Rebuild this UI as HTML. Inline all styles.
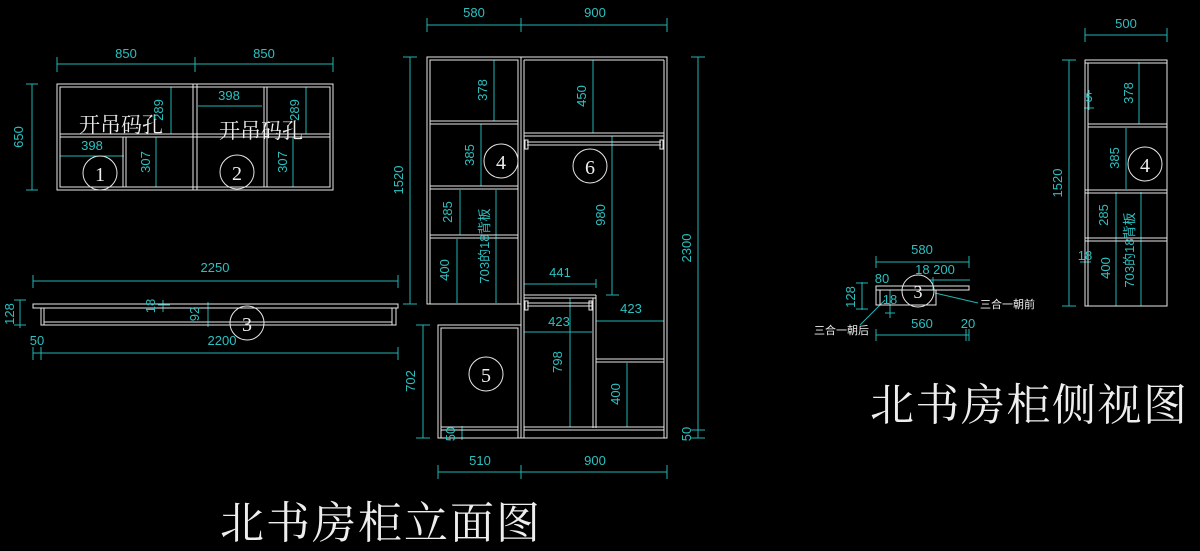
<!DOCTYPE html>
<html><head><meta charset="utf-8"><style>
html,body{margin:0;padding:0;background:#000;}
svg{display:block;}
.w{stroke:#e8e8e8;stroke-width:1;fill:none;}
.c{stroke:#20b5b5;stroke-width:1;fill:none;}
.t{fill:#2cc0c0;font-family:"Liberation Sans","Noto Sans CJK SC",sans-serif;font-size:13px;}
.wt{fill:#eee;font-family:"Liberation Serif","Noto Serif CJK SC",serif;}
.cir{stroke:#e8e8e8;stroke-width:1;fill:none;}
</style></head><body>
<svg width="1200" height="551" viewBox="0 0 1200 551" xmlns="http://www.w3.org/2000/svg">
<rect width="1200" height="551" fill="#000"/>

<!-- ============ TOP LEFT CABINETS ============ -->
<g class="c">
<line x1="57" y1="64" x2="333" y2="64"/><line x1="57" y1="57" x2="57" y2="72"/><line x1="195" y1="57" x2="195" y2="72"/><line x1="333" y1="57" x2="333" y2="72"/>
<line x1="32" y1="84" x2="32" y2="190"/><line x1="26" y1="84" x2="38" y2="84"/><line x1="26" y1="190" x2="38" y2="190"/>
<line x1="171" y1="87" x2="171" y2="134"/><line x1="167" y1="87" x2="175" y2="87"/>
<line x1="60" y1="156" x2="124" y2="156"/>
<line x1="156" y1="137" x2="156" y2="187"/><line x1="152" y1="187" x2="160" y2="187"/>
<line x1="198" y1="106" x2="262" y2="106"/>
<line x1="306" y1="87" x2="306" y2="134"/><line x1="302" y1="87" x2="310" y2="87"/>
<line x1="293" y1="137" x2="293" y2="187"/><line x1="289" y1="187" x2="297" y2="187"/>
</g>
<g class="w">
<rect x="57" y="84" width="276" height="106"/><rect x="60" y="87" width="270" height="100"/>
<line x1="193" y1="84" x2="193" y2="190"/><line x1="197" y1="84" x2="197" y2="190"/>
<line x1="60" y1="134" x2="330" y2="134"/><line x1="60" y1="137" x2="330" y2="137"/>
<line x1="123" y1="137" x2="123" y2="187"/><line x1="126" y1="137" x2="126" y2="187"/>
<line x1="264" y1="87" x2="264" y2="187"/><line x1="267" y1="87" x2="267" y2="187"/>
</g>
<circle class="cir" cx="100" cy="173" r="17"/><circle class="cir" cx="237" cy="172" r="17"/>
<text class="wt" x="100" y="181" font-size="20" text-anchor="middle">1</text>
<text class="wt" x="237" y="180" font-size="20" text-anchor="middle">2</text>
<text class="wt" x="79" y="132" font-size="21">开吊码孔</text>
<text class="wt" x="219" y="138" font-size="21">开吊码孔</text>
<text class="t" x="126" y="58" text-anchor="middle">850</text>
<text class="t" x="264" y="58" text-anchor="middle">850</text>
<text class="t" x="92" y="150" text-anchor="middle">398</text>
<text class="t" x="229" y="100" text-anchor="middle">398</text>
<text class="t" transform="translate(23,137) rotate(-90)" text-anchor="middle">650</text>
<text class="t" transform="translate(163,110) rotate(-90)" text-anchor="middle">289</text>
<text class="t" transform="translate(299,110) rotate(-90)" text-anchor="middle">289</text>
<text class="t" transform="translate(150,162) rotate(-90)" text-anchor="middle">307</text>
<text class="t" transform="translate(287,162) rotate(-90)" text-anchor="middle">307</text>

<!-- ============ LONG BOARD ============ -->
<g class="c">
<line x1="33" y1="281" x2="398" y2="281"/><line x1="33" y1="275" x2="33" y2="288"/><line x1="398" y1="275" x2="398" y2="288"/>
<line x1="20" y1="300" x2="20" y2="328"/><line x1="14" y1="300" x2="26" y2="300"/><line x1="14" y1="325" x2="26" y2="325"/>
<line x1="33" y1="353" x2="398" y2="353"/><line x1="33" y1="347" x2="33" y2="360"/><line x1="41" y1="347" x2="41" y2="360"/><line x1="398" y1="347" x2="398" y2="360"/>
<line x1="163" y1="300" x2="163" y2="312"/><line x1="158" y1="305" x2="170" y2="305"/>
<line x1="208" y1="302" x2="208" y2="327"/>
</g>
<g class="w">
<rect x="33" y="304" width="365" height="4"/>
<rect x="41" y="308" width="355" height="17"/>
<line x1="44" y1="308" x2="44" y2="325"/><line x1="392" y1="308" x2="392" y2="325"/>
<line x1="44" y1="322" x2="392" y2="322"/>
</g>
<circle class="cir" cx="247" cy="323" r="17"/>
<text class="wt" x="247" y="331" font-size="20" text-anchor="middle">3</text>
<text class="t" x="215" y="272" text-anchor="middle">2250</text>
<text class="t" x="222" y="345" text-anchor="middle">2200</text>
<text class="t" x="37" y="345" text-anchor="middle">50</text>
<text class="t" transform="translate(14,314) rotate(-90)" text-anchor="middle">128</text>
<text class="t" transform="translate(155,306) rotate(-90)" text-anchor="middle">18</text>
<text class="t" transform="translate(199,314) rotate(-90)" text-anchor="middle">92</text>

<!-- ============ FRONT ELEVATION ============ -->
<g class="c">
<line x1="427" y1="25" x2="667" y2="25"/><line x1="427" y1="18" x2="427" y2="32"/><line x1="521" y1="18" x2="521" y2="32"/><line x1="667" y1="18" x2="667" y2="32"/>
<line x1="410" y1="57" x2="410" y2="304"/><line x1="403" y1="57" x2="417" y2="57"/><line x1="403" y1="304" x2="417" y2="304"/>
<line x1="698" y1="57" x2="698" y2="438"/><line x1="691" y1="57" x2="705" y2="57"/><line x1="691" y1="430" x2="705" y2="430"/><line x1="691" y1="438" x2="705" y2="438"/>
<line x1="423" y1="325" x2="423" y2="438"/><line x1="416" y1="325" x2="430" y2="325"/><line x1="416" y1="438" x2="430" y2="438"/>
<line x1="438" y1="472" x2="667" y2="472"/><line x1="438" y1="465" x2="438" y2="479"/><line x1="521" y1="465" x2="521" y2="479"/><line x1="667" y1="465" x2="667" y2="479"/>
<line x1="494" y1="60" x2="494" y2="121"/><line x1="490" y1="121" x2="498" y2="121"/>
<line x1="481" y1="124" x2="481" y2="186"/><line x1="477" y1="186" x2="485" y2="186"/>
<line x1="460" y1="190" x2="460" y2="235"/>
<line x1="457" y1="239" x2="457" y2="303"/>
<line x1="496" y1="190" x2="496" y2="303"/>
<line x1="593" y1="60" x2="593" y2="133"/><line x1="589" y1="133" x2="597" y2="133"/>
<line x1="612" y1="136" x2="612" y2="295"/><line x1="606" y1="295" x2="619" y2="295"/>
<line x1="524" y1="284" x2="596" y2="284"/><line x1="524" y1="279" x2="524" y2="288"/><line x1="596" y1="279" x2="596" y2="288"/>
<line x1="524" y1="332" x2="592" y2="332"/>
<line x1="596" y1="321" x2="664" y2="321"/><line x1="664" y1="315" x2="664" y2="325"/>
<line x1="570" y1="298" x2="570" y2="427"/>
<line x1="627" y1="363" x2="627" y2="427"/>
<line x1="462" y1="426" x2="462" y2="440"/><line x1="456" y1="430" x2="468" y2="430"/>
</g>
<g class="w">
<rect x="427" y="57" width="94" height="247"/><rect x="430" y="60" width="88" height="244"/>
<line x1="430" y1="121" x2="518" y2="121"/><line x1="430" y1="124" x2="518" y2="124"/>
<line x1="430" y1="186" x2="518" y2="186"/><line x1="430" y1="189" x2="518" y2="189"/>
<line x1="430" y1="235" x2="518" y2="235"/><line x1="430" y1="238" x2="518" y2="238"/>
<rect x="521" y="57" width="146" height="381"/>
<line x1="524" y1="60" x2="524" y2="438"/><line x1="664" y1="60" x2="664" y2="438"/>
<line x1="524" y1="60" x2="664" y2="60"/>
<line x1="524" y1="133" x2="664" y2="133"/><line x1="524" y1="136" x2="664" y2="136"/>
<line x1="527" y1="142" x2="661" y2="142"/><line x1="527" y1="145" x2="661" y2="145"/>
<rect x="525" y="140" width="3" height="9"/><rect x="660" y="140" width="3" height="9"/>
<line x1="524" y1="295" x2="596" y2="295"/><line x1="524" y1="298" x2="596" y2="298"/>
<line x1="593" y1="298" x2="593" y2="428"/><line x1="596" y1="295" x2="596" y2="428"/>
<line x1="527" y1="303" x2="592" y2="303"/><line x1="527" y1="306" x2="592" y2="306"/>
<rect x="525" y="301" width="3" height="9"/><rect x="589" y="301" width="3" height="9"/>
<line x1="596" y1="359" x2="664" y2="359"/><line x1="596" y1="362" x2="664" y2="362"/>
<line x1="524" y1="427" x2="664" y2="427"/><line x1="524" y1="430" x2="664" y2="430"/>
<rect x="438" y="325" width="83" height="113"/><rect x="441" y="328" width="77" height="110"/>
<line x1="441" y1="427" x2="518" y2="427"/><line x1="441" y1="430" x2="518" y2="430"/>
</g>
<circle class="cir" cx="501" cy="161" r="17"/><circle class="cir" cx="590" cy="166" r="17"/><circle class="cir" cx="486" cy="374" r="17"/>
<text class="wt" x="501" y="169" font-size="20" text-anchor="middle">4</text>
<text class="wt" x="590" y="174" font-size="20" text-anchor="middle">6</text>
<text class="wt" x="486" y="382" font-size="20" text-anchor="middle">5</text>
<text class="t" x="474" y="17" text-anchor="middle">580</text>
<text class="t" x="595" y="17" text-anchor="middle">900</text>
<text class="t" x="480" y="465" text-anchor="middle">510</text>
<text class="t" x="595" y="465" text-anchor="middle">900</text>
<text class="t" x="560" y="277" text-anchor="middle">441</text>
<text class="t" x="559" y="326" text-anchor="middle">423</text>
<text class="t" x="631" y="313" text-anchor="middle">423</text>
<text class="t" transform="translate(403,180) rotate(-90)" text-anchor="middle">1520</text>
<text class="t" transform="translate(691,248) rotate(-90)" text-anchor="middle">2300</text>
<text class="t" transform="translate(415,381) rotate(-90)" text-anchor="middle">702</text>
<text class="t" transform="translate(691,434) rotate(-90)" text-anchor="middle">50</text>
<text class="t" transform="translate(455,434) rotate(-90)" text-anchor="middle">50</text>
<text class="t" transform="translate(487,90) rotate(-90)" text-anchor="middle">378</text>
<text class="t" transform="translate(474,155) rotate(-90)" text-anchor="middle">385</text>
<text class="t" transform="translate(452,212) rotate(-90)" text-anchor="middle">285</text>
<text class="t" transform="translate(449,270) rotate(-90)" text-anchor="middle">400</text>
<text class="t" transform="translate(489,246) rotate(-90)" text-anchor="middle">703的18背板</text>
<text class="t" transform="translate(586,96) rotate(-90)" text-anchor="middle">450</text>
<text class="t" transform="translate(605,215) rotate(-90)" text-anchor="middle">980</text>
<text class="t" transform="translate(562,362) rotate(-90)" text-anchor="middle">798</text>
<text class="t" transform="translate(620,394) rotate(-90)" text-anchor="middle">400</text>
<text class="wt" x="220" y="538" font-size="44" letter-spacing="2">北书房柜立面图</text>

<!-- ============ SIDE VIEW ============ -->
<g class="c">
<line x1="1085" y1="35" x2="1167" y2="35"/><line x1="1085" y1="28" x2="1085" y2="42"/><line x1="1167" y1="28" x2="1167" y2="42"/>
<line x1="1069" y1="60" x2="1069" y2="306"/><line x1="1062" y1="60" x2="1076" y2="60"/><line x1="1062" y1="306" x2="1076" y2="306"/>
<line x1="1139" y1="62" x2="1139" y2="124"/><line x1="1126" y1="128" x2="1126" y2="189"/>
<line x1="1116" y1="192" x2="1116" y2="306"/><line x1="1141" y1="192" x2="1141" y2="306"/>
<line x1="1089" y1="90" x2="1089" y2="110"/><line x1="1084" y1="108" x2="1094" y2="108"/>
<line x1="1085" y1="250" x2="1085" y2="270"/><line x1="1080" y1="262" x2="1091" y2="262"/>
</g>
<g class="w">
<rect x="1085" y="60" width="82" height="246"/><line x1="1088" y1="63" x2="1088" y2="306"/><line x1="1085" y1="63" x2="1167" y2="63"/>
<line x1="1088" y1="124" x2="1167" y2="124"/><line x1="1088" y1="127" x2="1167" y2="127"/>
<line x1="1085" y1="190" x2="1167" y2="190"/><line x1="1085" y1="193" x2="1167" y2="193"/>
<line x1="1085" y1="238" x2="1167" y2="238"/><line x1="1085" y1="241" x2="1167" y2="241"/>
</g>
<circle class="cir" cx="1145" cy="164" r="17"/>
<text class="wt" x="1145" y="172" font-size="20" text-anchor="middle">4</text>
<text class="t" x="1126" y="28" text-anchor="middle">500</text>
<text class="t" transform="translate(1062,183) rotate(-90)" text-anchor="middle">1520</text>
<text class="t" transform="translate(1133,93) rotate(-90)" text-anchor="middle">378</text>
<text class="t" transform="translate(1119,158) rotate(-90)" text-anchor="middle">385</text>
<text class="t" transform="translate(1108,215) rotate(-90)" text-anchor="middle">285</text>
<text class="t" transform="translate(1110,268) rotate(-90)" text-anchor="middle">400</text>
<text class="t" transform="translate(1134,250) rotate(-90)" text-anchor="middle">703的18背板</text>
<text class="t" x="1089" y="102" text-anchor="middle" font-size="11">5</text>
<text class="t" x="1085" y="260" text-anchor="middle" font-size="12">18</text>
<text class="wt" x="870" y="420" font-size="44" letter-spacing="1.5">北书房柜侧视图</text>

<!-- ============ SMALL SECTION ============ -->
<g class="c">
<line x1="876" y1="262" x2="969" y2="262"/><line x1="876" y1="256" x2="876" y2="268"/><line x1="969" y1="256" x2="969" y2="268"/>
<line x1="862" y1="282" x2="862" y2="310"/><line x1="856" y1="283" x2="868" y2="283"/><line x1="856" y1="309" x2="868" y2="309"/>
<line x1="876" y1="335" x2="969" y2="335"/><line x1="876" y1="329" x2="876" y2="341"/><line x1="966" y1="329" x2="966" y2="341"/><line x1="969" y1="329" x2="969" y2="341"/>
<line x1="930" y1="280" x2="970" y2="280"/><line x1="933" y1="277" x2="933" y2="290"/>
<line x1="890" y1="290" x2="890" y2="318"/><line x1="885" y1="313" x2="895" y2="313"/>
<line x1="935" y1="293" x2="978" y2="303"/>
<line x1="885" y1="300" x2="860" y2="325"/>
</g>
<g class="w">
<rect x="876" y="286" width="93" height="4"/>
<rect x="876" y="290" width="60" height="15"/>
<line x1="880" y1="290" x2="880" y2="305"/>
</g>
<circle class="cir" cx="918" cy="291" r="16"/>
<text class="wt" x="918" y="298" font-size="18" text-anchor="middle">3</text>
<text class="t" x="922" y="254" text-anchor="middle">580</text>
<text class="t" x="935" y="274" text-anchor="middle" font-size="12">18 200</text>
<text class="t" x="882" y="283" text-anchor="middle" font-size="12">80</text>
<text class="t" x="890" y="304" text-anchor="middle" font-size="11">18</text>
<text class="t" x="922" y="328" text-anchor="middle">560</text>
<text class="t" x="968" y="328" text-anchor="middle" font-size="12">20</text>
<text class="t" transform="translate(855,297) rotate(-90)" text-anchor="middle" font-size="12">128</text>
<text x="980" y="308" fill="#eee" font-family="'Liberation Sans','Noto Sans CJK SC',sans-serif" font-size="11">三合一朝前</text>
<text x="814" y="334" fill="#eee" font-family="'Liberation Sans','Noto Sans CJK SC',sans-serif" font-size="11">三合一朝后</text>
</svg>
</body></html>
